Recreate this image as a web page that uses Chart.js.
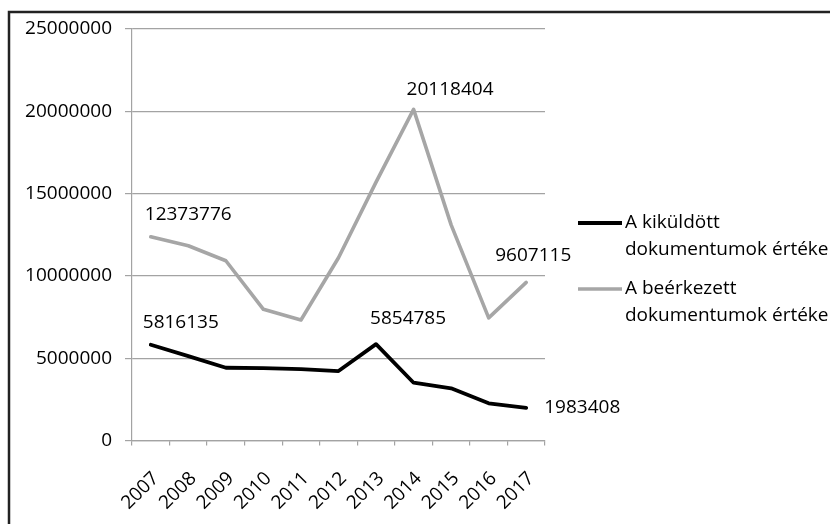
<!DOCTYPE html>
<html>
<head>
<meta charset="utf-8">
<script src="https://cdn.jsdelivr.net/npm/chart.js@4.4.1/dist/chart.umd.min.js"></script>
<style>
  html, body { margin: 0; padding: 0; background: #fff; }
  #wrap { width: 830px; height: 524px; }
</style>
</head>
<body>
<div id="wrap"><canvas id="myChart" width="830" height="524"></canvas></div>
<script>
// Data and Axis config
const years = ["2007", "2008", "2009", "2010", "2011", "2012", "2013", "2014", "2015", "2016", "2017"];
const kikuldott = [5816135, 5130000, 4420000, 4400000, 4340000, 4220000, 5854785, 3510000, 3170000, 2260000, 1983408];
const beerkezett = [12373776, 11830000, 10920000, 7970000, 7320000, 11100000, 15700000, 20118404, 13100000, 7450000, 9607115];
const yTicks = [0, 5000000, 10000000, 15000000, 20000000, 25000000];
const seriesNames = [
  ["A kiküldött", "dokumentumok értéke"],
  ["A beérkezett", "dokumentumok értéke"]
];

const blackLine = '#000000';
const greyLine = '#a6a6a6';
const gridColor = '#a3a3a3';
const textColor = '#000';
const fontFamily = '"Open Sans", "Noto Sans", sans-serif';
const fontSize = 19;

// which points get a value label, and where the label sits relative to the point
const labelSpots = [
  { ds: 0, i: 0, dx: -8, dy: -22 },
  { ds: 0, i: 6, dx: -6, dy: -26 },
  { ds: 0, i: 10, dx: 18, dy: 0 },
  { ds: 1, i: 0, dx: -6, dy: -22 },
  { ds: 1, i: 7, dx: -7, dy: -20 },
  { ds: 1, i: 10, dx: -31, dy: -27 }
];

// frame round the whole picture
const frame = {
  id: 'frame',
  beforeDraw: (chart) => {
    const ctx = chart.ctx;
    ctx.save();
    ctx.fillStyle = '#fff';
    ctx.fillRect(0, 0, chart.width, chart.height);
    ctx.strokeStyle = '#222';
    ctx.lineWidth = 2.5;
    ctx.strokeRect(9, 12, chart.width + 20, chart.height + 20);
    ctx.restore();
  }
};

// value labels on chosen points
const valueLabels = {
  id: 'valueLabels',
  afterDatasetsDraw: (chart) => {
    const ctx = chart.ctx;
    ctx.save();
    ctx.font = fontSize + 'px ' + fontFamily;
    ctx.fillStyle = textColor;
    ctx.textAlign = 'left';
    ctx.textBaseline = 'middle';
    labelSpots.forEach(s => {
      const pt = chart.getDatasetMeta(s.ds).data[s.i];
      const v = chart.data.datasets[s.ds].data[s.i];
      ctx.fillText(String(v), pt.x + s.dx, pt.y + s.dy);
    });
    ctx.restore();
  }
};

// legend on the right, two lines of text per entry
const sideLegend = {
  id: 'sideLegend',
  afterDraw: (chart) => {
    const ctx = chart.ctx;
    const x0 = chart.chartArea.right + 33;
    const tops = [223, 289];
    ctx.save();
    ctx.font = fontSize + 'px ' + fontFamily;
    ctx.fillStyle = textColor;
    ctx.textBaseline = 'middle';
    chart.data.datasets.forEach((ds, k) => {
      const y = tops[k];
      ctx.strokeStyle = ds.borderColor;
      ctx.lineWidth = ds.borderWidth;
      ctx.beginPath();
      ctx.moveTo(x0, y);
      ctx.lineTo(x0 + 44, y);
      ctx.stroke();
      seriesNames[k].forEach((t, j) => ctx.fillText(t, x0 + 47, y + j * 27));
    });
    ctx.restore();
  }
};

var ctx = document.getElementById('myChart').getContext('2d');
var chart = new Chart(ctx, {
  type: 'line',
  data: {
    labels: years,
    datasets: [
      {
        label: seriesNames[0].join(' '),
        data: kikuldott,
        borderColor: blackLine,
        backgroundColor: blackLine,
        borderWidth: 3.8,
        pointRadius: 0,
        tension: 0,
        borderJoinStyle: 'round',
        borderCapStyle: 'round',
        fill: false
      },
      {
        label: seriesNames[1].join(' '),
        data: beerkezett,
        borderColor: greyLine,
        backgroundColor: greyLine,
        borderWidth: 3.6,
        pointRadius: 0,
        tension: 0,
        borderJoinStyle: 'round',
        borderCapStyle: 'round',
        fill: false
      }
    ]
  },
  plugins: [frame, valueLabels, sideLegend],
  options: {
    responsive: false,
    animation: false,
    layout: { padding: { left: 0, right: 285, top: 29, bottom: 0 } },
    plugins: {
      legend: { display: false },
      tooltip: { enabled: false }
    },
    scales: {
      x: {
        offset: true,
        grid: {
          offset: true,
          drawOnChartArea: false,
          drawTicks: true,
          tickLength: 5,
          color: gridColor,
          lineWidth: 1.2
        },
        border: { display: true, color: gridColor, width: 1.2 },
        ticks: {
          minRotation: 45,
          maxRotation: 45,
          padding: 22,
          labelOffset: 5,
          color: textColor,
          font: { family: fontFamily, size: fontSize }
        },
        afterFit: (scale) => { scale.height = 83.5; }
      },
      y: {
        min: 0,
        max: 25000000,
        afterBuildTicks: (scale) => { scale.ticks = yTicks.map(v => ({ value: v })); },
        grid: {
          color: gridColor,
          lineWidth: 1.2,
          drawTicks: true,
          tickLength: 7
        },
        border: { display: true, color: gridColor, width: 1.2 },
        ticks: {
          padding: 13,
          color: textColor,
          font: { family: fontFamily, size: fontSize },
          callback: (v) => String(v)
        },
        afterFit: (scale) => { scale.width = 132; }
      }
    }
  }
});
</script>
</body>
</html>
